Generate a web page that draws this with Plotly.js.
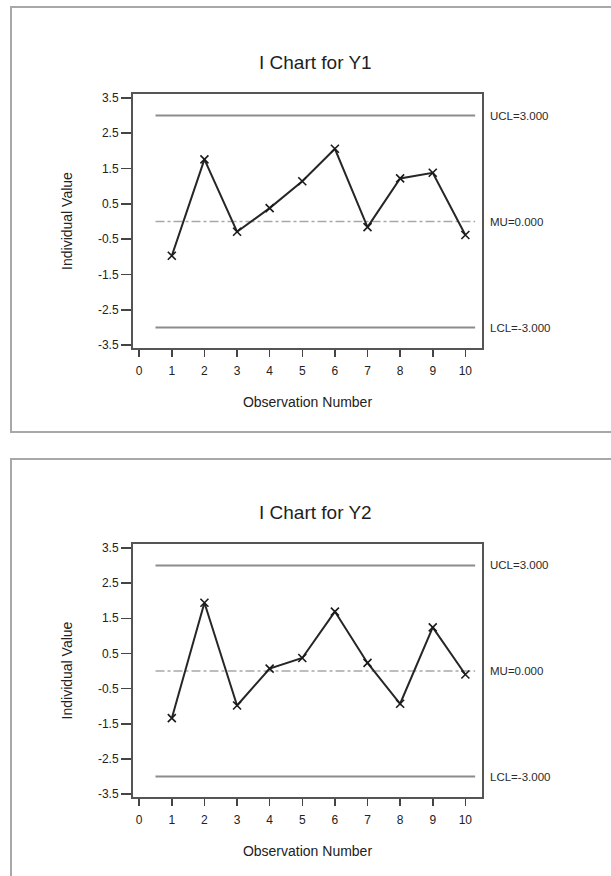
<!DOCTYPE html>
<html>
<head>
<meta charset="utf-8">
<script src="https://cdn.plot.ly/plotly-3.0.1.min.js"></script>
<style>
  html, body { margin: 0; padding: 0; background: #ffffff; }
  #chart { width: 611px; height: 876px; }
</style>
</head>
<body>
<div id="chart"></div>
<script>
// ---- data ----
const observations = [1, 2, 3, 4, 5, 6, 7, 8, 9, 10];
const y1Values = [-0.97, 1.76, -0.29, 0.38, 1.14, 2.06, -0.16, 1.22, 1.38, -0.38];
const y2Values = [-1.34, 1.94, -0.98, 0.07, 0.37, 1.69, 0.23, -0.93, 1.24, -0.10];
const UCL = 3.0;
const MU = 0.0;
const LCL = -3.0;
const limitSpan = [0.5, 10.3];
const chartTitles = ["I Chart for Y1", "I Chart for Y2"];
const yTickVals = [-3.5, -2.5, -1.5, -0.5, 0.5, 1.5, 2.5, 3.5];
const yTickText = ["-3.5", "-2.5", "-1.5", "-0.5", "0.5", "1.5", "2.5", "3.5"];
const xTickVals = [0, 1, 2, 3, 4, 5, 6, 7, 8, 9, 10];
const limitLabels = ["UCL=3.000", "MU=0.000", "LCL=-3.000"];

// ---- helpers ----
const W = 611, H = 876;
const FONT = "Liberation Sans, Arial, sans-serif";
const px2x = p => p / W;
const px2y = p => 1 - p / H;

function limitTraces(xa, ya) {
  const base = { x: limitSpan, xaxis: xa, yaxis: ya, mode: "lines", hoverinfo: "skip", showlegend: false };
  return [
    Object.assign({}, base, { y: [UCL, UCL], line: { color: "#8c8c8c", width: 2 } }),
    Object.assign({}, base, { y: [MU, MU], line: { color: "#a8a8a8", width: 1.5, dash: "dashdot" } }),
    Object.assign({}, base, { y: [LCL, LCL], line: { color: "#8c8c8c", width: 2 } })
  ];
}
function dataTrace(vals, xa, ya) {
  return {
    x: observations, y: vals, xaxis: xa, yaxis: ya,
    mode: "lines+markers", showlegend: false,
    line: { color: "#262626", width: 2 },
    marker: { symbol: "x-thin", size: 8, line: { color: "#1a1a1a", width: 1.6 } }
  };
}

const traces = [
  ...limitTraces("x", "y"), dataTrace(y1Values, "x", "y"),
  ...limitTraces("x2", "y2"), dataTrace(y2Values, "x2", "y2")
];

function xAxis(domain, anchor) {
  return {
    domain: domain, anchor: anchor, range: [-0.19, 10.51],
    tickvals: xTickVals, ticks: "outside", ticklen: 7, tickwidth: 1.5, tickcolor: "#444",
    ticklabelstandoff: 4,
    showline: true, mirror: true, linecolor: "#555", linewidth: 2,
    showgrid: false, zeroline: false, automargin: false,
    tickfont: { family: FONT, size: 12, color: "#222" },
    title: { text: "Observation Number", font: { family: FONT, size: 14, color: "#222" }, standoff: 20 }
  };
}
function yAxis(domain, anchor) {
  return {
    domain: domain, anchor: anchor, range: [-3.58, 3.61],
    tickvals: yTickVals, ticktext: yTickText, ticks: "outside", ticklen: 10, tickwidth: 1.5, tickcolor: "#444",
    showline: true, mirror: true, linecolor: "#555", linewidth: 2,
    showgrid: false, zeroline: false, automargin: false,
    tickfont: { family: FONT, size: 12, color: "#222" },
    title: { text: "Individual Value", font: { family: FONT, size: 14, color: "#222" }, standoff: 22 }
  };
}

const xDom = [px2x(133), px2x(482)];
const yDom1 = [px2y(348), px2y(94)];
const yDom2 = [px2y(797), px2y(544)];

const annotations = [];
[[chartTitles[0], 62, "y"], [chartTitles[1], 512, "y2"]].forEach(([t, py, yr]) => {
  annotations.push({ text: t, xref: "paper", yref: "paper", x: px2x(315), y: px2y(py),
    xanchor: "center", yanchor: "middle", showarrow: false,
    font: { family: FONT, size: 19, color: "#1e1e1e" } });
  [UCL, MU, LCL].forEach((v, i) => {
    annotations.push({ text: limitLabels[i], xref: "paper", yref: yr, x: px2x(488), y: v,
      xanchor: "left", yanchor: "middle", showarrow: false,
      font: { family: FONT, size: 11.5, color: "#2a2a2a" } });
  });
});

const shapes = [
  { type: "rect", xref: "paper", yref: "paper", x0: px2x(11), x1: px2x(640), y0: px2y(432), y1: px2y(7),
    line: { color: "#a8a8a8", width: 2 } },
  { type: "rect", xref: "paper", yref: "paper", x0: px2x(11), x1: px2x(640), y0: px2y(900), y1: px2y(459),
    line: { color: "#a8a8a8", width: 2 } }
];

const layout = {
  width: W, height: H,
  margin: { l: 0, r: 0, t: 0, b: 0 },
  paper_bgcolor: "#ffffff", plot_bgcolor: "#ffffff",
  showlegend: false,
  xaxis: xAxis(xDom, "y"), yaxis: yAxis(yDom1, "x"),
  xaxis2: xAxis(xDom, "y2"), yaxis2: yAxis(yDom2, "x2"),
  annotations: annotations, shapes: shapes
};

Plotly.newPlot("chart", traces, layout, { staticPlot: true, displayModeBar: false });
</script>
</body>
</html>
